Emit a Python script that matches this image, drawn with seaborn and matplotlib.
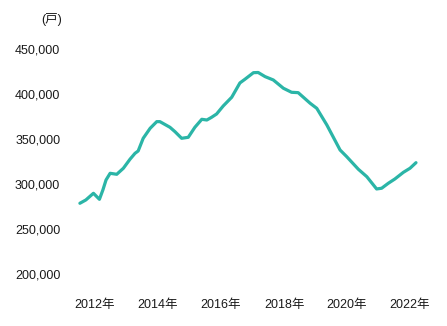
import matplotlib
matplotlib.use("Agg")
import matplotlib.pyplot as plt
import seaborn as sns
import pandas as pd

years = [2011.52, 2011.71, 2011.95, 2012.14, 2012.25, 2012.35, 2012.48, 2012.69, 2012.90,
         2013.11, 2013.27, 2013.37, 2013.53, 2013.75, 2013.96, 2014.06, 2014.38, 2014.54,
         2014.75, 2014.96, 2015.17, 2015.39, 2015.55, 2015.70, 2015.86, 2016.07, 2016.34,
         2016.60, 2016.76, 2017.03, 2017.18, 2017.40, 2017.66, 2017.98, 2018.24, 2018.45,
         2018.83, 2019.04, 2019.36, 2019.78, 2019.99, 2020.36, 2020.63, 2020.94, 2021.10,
         2021.31, 2021.52, 2021.79, 2022.00, 2022.19]
values = [278900, 282600, 290000, 283300, 293700, 304800, 312200, 311100, 317800,
          327800, 334400, 337000, 351100, 362200, 369600, 369600, 363300, 358400,
          351100, 352200, 363300, 372200, 371400, 374400, 378100, 387000, 396700,
          412600, 416700, 424000, 424200, 419600, 415900, 406700, 402200, 401800,
          390000, 384400, 365900, 338100, 330700, 316700, 308400, 294800, 295600,
          301100, 305900, 313300, 317800, 324000]
tick_years = [2012, 2014, 2016, 2018, 2020, 2022]
tick_labels = ["2012年", "2014年", "2016年", "2018年", "2020年", "2022年"]
y_ticks = [200000, 250000, 300000, 350000, 400000, 450000]
unit_label = "(戸)"

sns.set_style("white")
plt.rcParams['font.family'] = ['Liberation Sans', 'Noto Sans CJK JP', 'DejaVu Sans']

df = pd.DataFrame({"year": years, "value": values})

fig = plt.figure(figsize=(4.47, 3.26), dpi=100)
ax = fig.add_axes([70/447, 1-285/326, 367/447, 245/326])
sns.lineplot(data=df, x="year", y="value", ax=ax, color="#2bb5a7", linewidth=2.3)

ax.set_xlim(2011.206, 2022.857)
ax.set_ylim(188100, 460300)
ax.set_xticks(tick_years)
ax.set_xticklabels(tick_labels)
ax.set_yticks(y_ticks)
ax.set_yticklabels([f"{v:,}" for v in y_ticks])
ax.tick_params(axis='both', length=0, labelsize=9, colors="#1a1a1a")
ax.tick_params(axis='y', pad=7)
ax.tick_params(axis='x', pad=10)
ax.set_xlabel("")
ax.set_ylabel("")
for s in ax.spines.values():
    s.set_visible(False)
ax.grid(False)

fig.text(62/447, 1-19/326, unit_label, ha="right", va="center", fontsize=9, color="#1a1a1a")

fig.savefig("out.png", dpi=100)
